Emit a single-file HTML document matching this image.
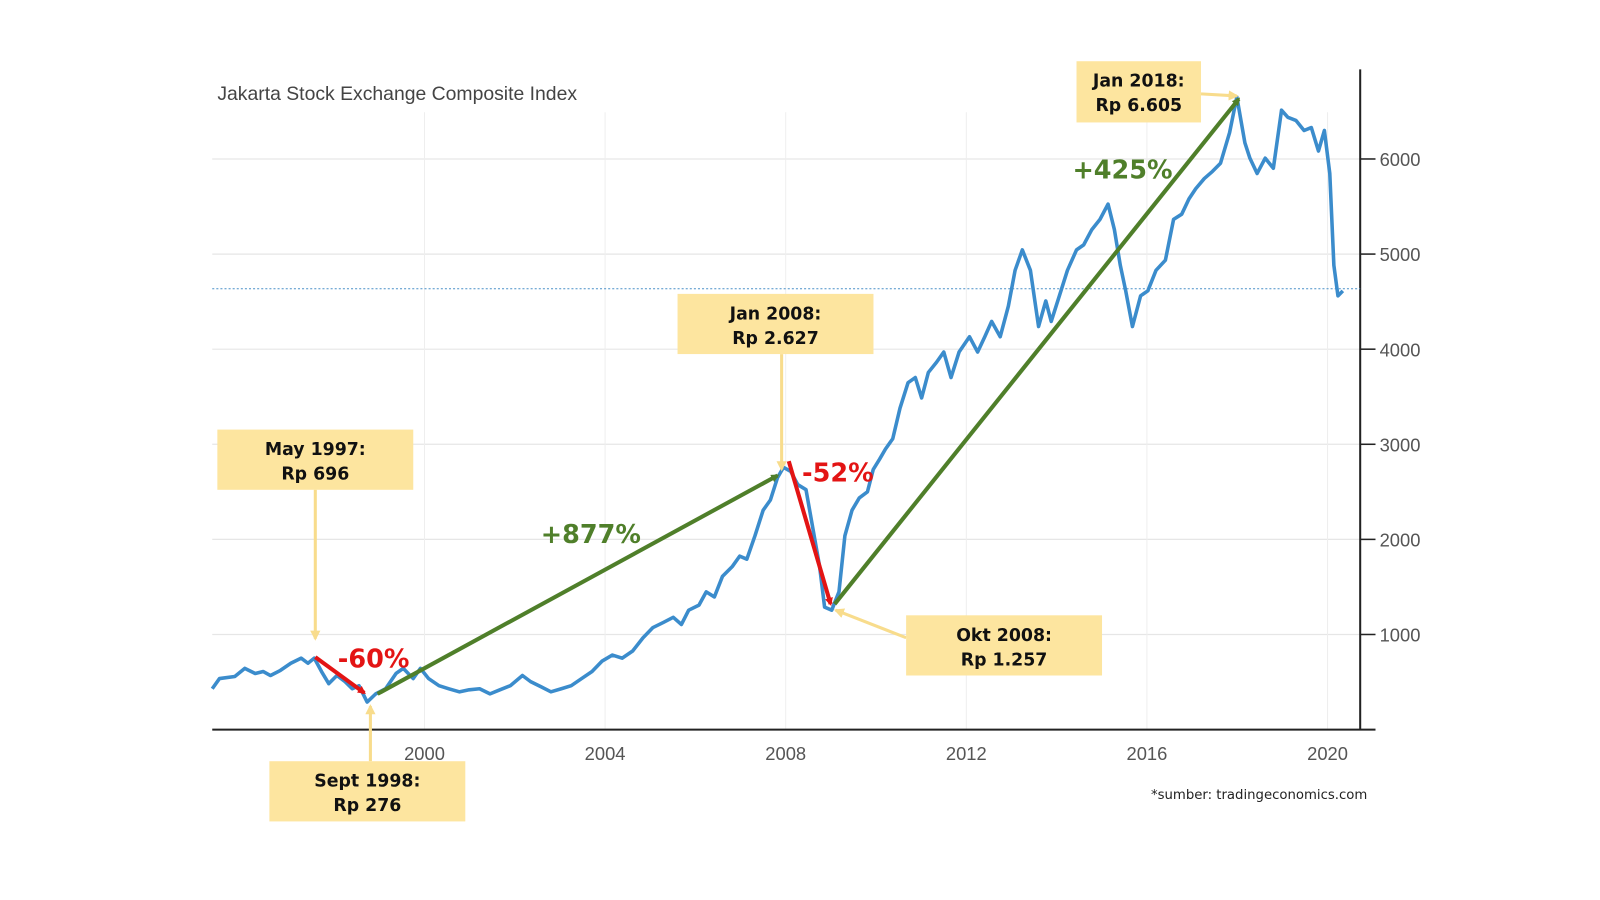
<!DOCTYPE html>
<html><head><meta charset="utf-8"><style>
html,body{margin:0;padding:0;background:#fff;}
svg{display:block;}
.tick{font-family:"Liberation Sans",sans-serif;font-size:18px;fill:#555;}
.box{fill:#fde59f;}
.bt{font-family:"DejaVu Sans","Liberation Sans",sans-serif;font-size:17px;font-weight:bold;fill:#111;}
.pct{font-family:"DejaVu Sans","Liberation Sans",sans-serif;font-size:25px;font-weight:bold;}
</style></head><body>
<svg id="chart" width="1600" height="900" viewBox="0 0 1600 900" xmlns="http://www.w3.org/2000/svg">
<defs>
<marker id="ag" markerWidth="8" markerHeight="8" refX="6" refY="4" orient="auto" markerUnits="userSpaceOnUse"><path d="M0,0 L8,4 L0,8 z" fill="#4f7f2a"/></marker>
<marker id="ar" markerWidth="8" markerHeight="8" refX="6" refY="4" orient="auto" markerUnits="userSpaceOnUse"><path d="M0,0 L8,4 L0,8 z" fill="#e31414"/></marker>
<marker id="ay" markerWidth="10" markerHeight="10" refX="8" refY="5" orient="auto" markerUnits="userSpaceOnUse"><path d="M0,0 L10,5 L0,10 z" fill="#f8dc8c"/></marker>
</defs>
<g transform="scale(1.0204)">
<g id="grid"></g>
<g id="axes"></g>
<text x="213" y="98" style="font-family:'Liberation Sans',sans-serif;font-size:19px;fill:#444;">Jakarta Stock Exchange Composite Index</text>
<line x1="208" y1="283" x2="1333" y2="283" stroke="#4a90c8" stroke-width="1" stroke-dasharray="2,2"/>
<path id="series" fill="none" stroke="#3b8ccc" stroke-width="3.5" stroke-linejoin="round"/>
<g id="ann">
<line x1="309" y1="480" x2="309" y2="626" stroke="#f8dc8c" stroke-width="3" marker-end="url(#ay)"/>
<line x1="363" y1="746" x2="363" y2="692" stroke="#f8dc8c" stroke-width="3" marker-end="url(#ay)"/>
<line x1="766" y1="347" x2="766" y2="460" stroke="#f8dc8c" stroke-width="3" marker-end="url(#ay)"/>
<line x1="888" y1="625" x2="819" y2="598" stroke="#f8dc8c" stroke-width="3" marker-end="url(#ay)"/>
<line x1="1177" y1="92" x2="1212" y2="94" stroke="#f8dc8c" stroke-width="3" marker-end="url(#ay)"/>
<line x1="370" y1="680" x2="762" y2="466" stroke="#4f7f2a" stroke-width="4" marker-end="url(#ag)"/>
<line x1="818" y1="592" x2="1214" y2="97" stroke="#4f7f2a" stroke-width="4" marker-end="url(#ag)"/>
<line x1="309" y1="644" x2="357" y2="679" stroke="#e31414" stroke-width="4" marker-end="url(#ar)"/>
<line x1="773" y1="452" x2="814" y2="592" stroke="#e31414" stroke-width="4" marker-end="url(#ar)"/>
<text x="331" y="654" class="pct" fill="#e31414">-60%</text>
<text x="530" y="532" class="pct" fill="#4f7f2a">+877%</text>
<text x="786" y="472" class="pct" fill="#e31414">-52%</text>
<text x="1051" y="175" class="pct" fill="#4f7f2a">+425%</text>
<g><rect class="box" x="1055" y="60" width="122" height="60"/><text class="bt" x="1116" y="85" text-anchor="middle">Jan 2018:</text><text class="bt" x="1116" y="109" text-anchor="middle">Rp 6.605</text></g>
<g><rect class="box" x="664" y="288" width="192" height="59"/><text class="bt" x="760" y="313" text-anchor="middle">Jan 2008:</text><text class="bt" x="760" y="337" text-anchor="middle">Rp 2.627</text></g>
<g><rect class="box" x="213" y="421" width="192" height="59"/><text class="bt" x="309" y="446" text-anchor="middle">May 1997:</text><text class="bt" x="309" y="470" text-anchor="middle">Rp 696</text></g>
<g><rect class="box" x="264" y="746" width="192" height="59"/><text class="bt" x="360" y="771" text-anchor="middle">Sept 1998:</text><text class="bt" x="360" y="795" text-anchor="middle">Rp 276</text></g>
<g><rect class="box" x="888" y="603" width="192" height="59"/><text class="bt" x="984" y="628" text-anchor="middle">Okt 2008:</text><text class="bt" x="984" y="652" text-anchor="middle">Rp 1.257</text></g>
</g>
<text x="1128" y="783" style="font-family:'DejaVu Sans',sans-serif;font-size:13px;fill:#222;">*sumber: tradingeconomics.com</text>
</g>
</svg>
<script>
const years=[1995.30,1995.46,1995.80,1996.02,1996.25,1996.43,1996.59,1996.81,1997.04,1997.27,1997.42,1997.56,1997.72,1997.88,1998.06,1998.24,1998.40,1998.55,1998.73,1998.92,1999.14,1999.37,1999.53,1999.75,1999.91,2000.09,2000.32,2000.54,2000.77,2000.99,2001.22,2001.45,2001.67,2001.90,2002.17,2002.35,2002.58,2002.80,2003.03,2003.25,2003.48,2003.71,2003.93,2004.16,2004.38,2004.61,2004.84,2005.06,2005.29,2005.51,2005.69,2005.85,2006.08,2006.24,2006.42,2006.60,2006.82,2006.98,2007.14,2007.32,2007.50,2007.66,2007.82,2007.95,2008.11,2008.27,2008.45,2008.61,2008.75,2008.86,2009.02,2009.18,2009.31,2009.47,2009.63,2009.81,2009.94,2010.08,2010.21,2010.37,2010.53,2010.71,2010.87,2011.01,2011.16,2011.34,2011.50,2011.66,2011.84,2012.07,2012.25,2012.41,2012.56,2012.75,2012.93,2013.08,2013.24,2013.42,2013.60,2013.76,2013.88,2014.06,2014.24,2014.44,2014.60,2014.78,2014.96,2015.14,2015.28,2015.41,2015.53,2015.68,2015.86,2016.02,2016.20,2016.41,2016.59,2016.77,2016.93,2017.08,2017.27,2017.45,2017.63,2017.83,2017.99,2018.17,2018.28,2018.44,2018.62,2018.80,2018.98,2019.12,2019.30,2019.48,2019.64,2019.80,2019.93,2020.05,2020.14,2020.23,2020.34];
const values=[429,536,558,644,590,611,569,622,697,751,697,751,611,483,569,504,429,461,290,376,429,590,644,536,644,536,461,429,397,418,429,376,418,461,569,504,451,397,429,461,536,611,719,783,751,826,966,1073,1127,1180,1105,1255,1309,1449,1395,1610,1717,1824,1792,2039,2307,2414,2650,2758,2715,2575,2522,2092,1717,1288,1255,1449,2039,2307,2436,2500,2736,2843,2951,3058,3380,3648,3702,3487,3755,3863,3970,3702,3970,4131,3970,4131,4292,4131,4453,4829,5044,4829,4238,4507,4292,4561,4829,5044,5097,5258,5365,5526,5258,4882,4614,4238,4561,4614,4829,4936,5365,5419,5580,5687,5794,5869,5955,6277,6653,6170,6009,5848,6009,5902,6513,6438,6406,6299,6331,6084,6299,5848,4882,4561,4614];
const yTicks=[1000,2000,3000,4000,5000,6000];
const xTicks=[2000,2004,2008,2012,2016,2020];
const NS="http://www.w3.org/2000/svg";
function X(yr){return 416+(yr-2000)*44.25;}
function Y(v){return 715-v*0.0932;}
const grid=document.getElementById('grid'),axes=document.getElementById('axes');
function mk(tag,attrs,parent){const e=document.createElementNS(NS,tag);for(const k in attrs)e.setAttribute(k,attrs[k]);parent.appendChild(e);return e;}
yTicks.forEach(v=>{
  const g=mk('line',{x1:208,x2:1333,y1:Y(v),y2:Y(v),stroke:'#e6e6e6','stroke-width':1.2},grid);
  
  
  const t=mk('line',{x1:1333,x2:1348,y1:Y(v),y2:Y(v),stroke:'#222','stroke-width':1.5},axes);
  
  
  const l=mk('text',{x:1352,y:Y(v)+7,class:'tick'},axes);l.textContent=v;
  
  
});
xTicks.forEach(yr=>{
  const g=mk('line',{x1:X(yr),x2:X(yr),y1:110,y2:715,stroke:'#eeeeee','stroke-width':1},grid);
  
  
  const l=mk('text',{x:X(yr),y:745,class:'tick','text-anchor':'middle'},axes);l.textContent=yr;
  
  
});
const xa=mk('line',{x1:208,x2:1348,y1:715,y2:715,stroke:'#222','stroke-width':2},axes);


const ya=mk('line',{x1:1333,x2:1333,y1:68,y2:715,stroke:'#222','stroke-width':2},axes);


document.getElementById('series').setAttribute('d',years.map((yr,i)=>(i?'L':'M')+X(yr).toFixed(1)+','+Y(values[i]).toFixed(1)).join(' '));
</script>
</body></html>
